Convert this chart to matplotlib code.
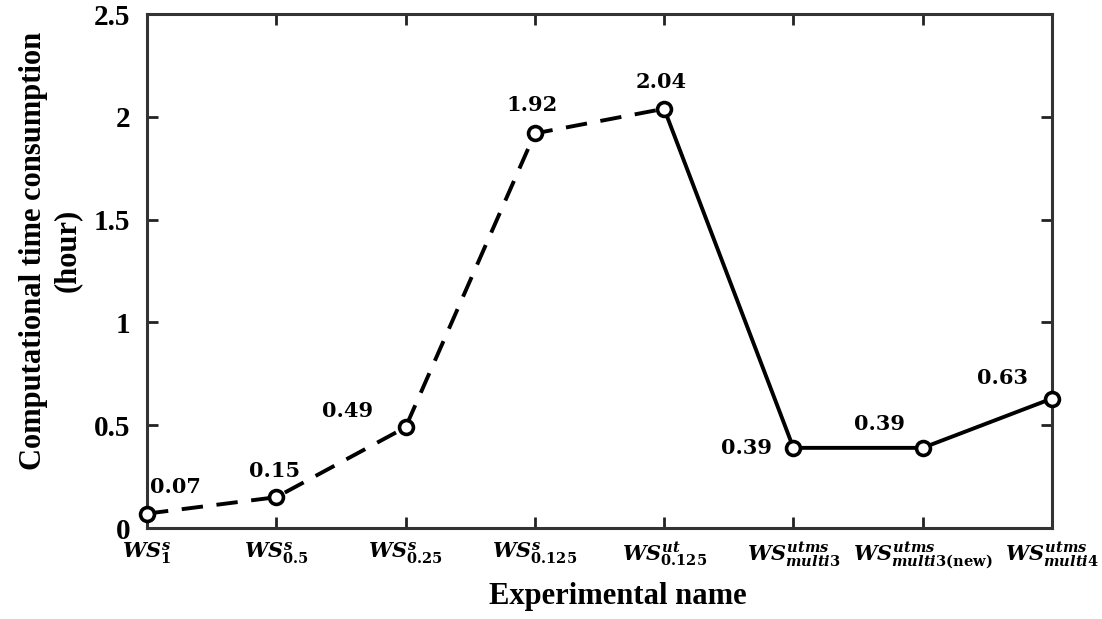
import matplotlib
matplotlib.use('Agg')
import matplotlib.pyplot as plt

# 실험 이름과 계산 시간(hour)
names = [r'$WS^{s}_{1}$', r'$WS^{s}_{0.5}$', r'$WS^{s}_{0.25}$', r'$WS^{s}_{0.125}$',
         r'$WS^{ut}_{0.125}$', r'$WS^{utms}_{multi3}$',
         r'$WS^{utms}_{multi3\mathrm{(new)}}$', r'$WS^{utms}_{multi4}$']
hours = [0.07, 0.15, 0.49, 1.92, 2.04, 0.39, 0.39, 0.63]
value_labels = ['0.07', '0.15', '0.49', '1.92', '2.04', '0.39', '0.39', '0.63']
# 값 라벨 위치 (pixel offset)
label_offsets = [(28, 27), (-2, 26), (-58, 16), (-3, 28), (-3, 27), (-47, 0), (-43, 24), (-49, 21)]

plt.rcParams['mathtext.fontset'] = 'custom'
plt.rcParams['mathtext.it'] = 'DejaVu Serif:italic:bold'
plt.rcParams['mathtext.rm'] = 'DejaVu Serif:bold'
plt.rcParams['mathtext.bf'] = 'DejaVu Serif:bold'

fig = plt.figure(figsize=(11.02, 6.19), dpi=100)
ax = fig.add_axes([0.1334, 0.147, 0.8212, 0.83])

x = list(range(len(hours)))
lw = 2.8
# 앞부분은 점선, 뒷부분은 실선
ax.plot(x[:5], hours[:5], color='black', lw=lw, ls=(0, (5.5, 3.5)), zorder=2)
ax.plot(x[4:], hours[4:], color='black', lw=lw, ls='-', zorder=2)
ax.plot(x, hours, ls='none', marker='o', ms=10, mfc='white', mec='black', mew=2.6,
        zorder=3, clip_on=False)

for xi, yi, txt, off in zip(x, hours, value_labels, label_offsets):
    ax.annotate(txt, (xi, yi), xytext=off, textcoords='offset pixels',
                ha='center', va='center', fontsize=15, fontweight='bold',
                family='DejaVu Serif')

ax.set_xlim(0, 7)
ax.set_ylim(0, 2.5)
ax.set_xticks(x)
ax.set_xticklabels(names, fontsize=15)
ax.set_yticks([0, 0.5, 1, 1.5, 2, 2.5])
ax.set_yticklabels(['0', '0.5', '1', '1.5', '2', '2.5'],
                   fontsize=21, fontweight='bold', family='Liberation Serif')

ax.tick_params(direction='in', length=8, width=2, top=True, right=True,
               color='#222222')
ax.tick_params(axis='y', pad=12)
ax.tick_params(axis='x', pad=9)
for s in ax.spines.values():
    s.set_linewidth(2.2)
    s.set_color('#333333')

ax.set_xlabel('Experimental name', fontsize=22, fontweight='bold',
              family='Liberation Serif')
ax.set_ylabel('Computational time consumption\n(hour)', fontsize=22,
              fontweight='bold', family='Liberation Serif')
ax.xaxis.set_label_coords(0.52, -0.105)
ax.yaxis.set_label_coords(-0.072, 0.54)

fig.savefig('out.png', dpi=100)
